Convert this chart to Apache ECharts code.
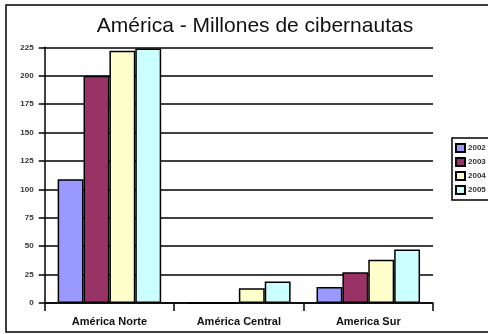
<!DOCTYPE html>
<html>
<head>
<meta charset="utf-8">
<script src="https://cdn.jsdelivr.net/npm/echarts@6/dist/echarts.min.js"></script>
<style>html,body{margin:0;padding:0;background:#fff;}#c{width:488px;height:334px;}</style>
</head>
<body>
<div id="c"></div>
<script>
const categories = ['América Norte', 'América Central', 'America Sur'];
const years = ['2002', '2003', '2004', '2005'];
const v2002 = [109, 0, 14];
const v2003 = [200, 0, 27];
const v2004 = [222, 13, 38];
const v2005 = [224, 19, 47];
const yTicks = [0, 25, 50, 75, 100, 125, 150, 175, 200, 225];
const colors = ['#9999FF', '#993366', '#FFFFCC', '#CCFFFF'];
const values = [v2002, v2003, v2004, v2005];

const chart = echarts.init(document.getElementById('c'), null, {renderer: 'canvas'});
chart.setOption({
  animation: false,
  textStyle: {fontFamily: 'Liberation Sans, Arial, sans-serif'},
  title: {
    text: 'América - Millones de cibernautas',
    left: 250, top: 11, textAlign: 'center',
    textStyle: {fontSize: 21, fontWeight: 'normal', color: '#111', fontFamily: 'Liberation Sans, Arial, sans-serif'}
  },
  graphic: [
    {type: 'rect', shape: {x: 6, y: 5, width: 500, height: 327}, style: {fill: 'none', stroke: '#000', lineWidth: 1.5}, z: 100},
    {type: 'rect', shape: {x: 452, y: 138, width: 60, height: 62}, style: {fill: 'none', stroke: '#000', lineWidth: 1.5}, z: 100}
  ],
  legend: {
    orient: 'vertical', left: 455, top: 143, padding: 0,
    itemWidth: 9, itemHeight: 8, itemGap: 4,
    icon: 'rect',
    textStyle: {fontSize: 8, lineHeight: 8, fontWeight: 'bold', color: '#333', padding: [0, 0, 0, -2]},
    data: years
  },
  grid: {left: 44.7, right: 55, top: 47.3, bottom: 31, containLabel: false},
  xAxis: {
    type: 'category', data: categories,
    axisLine: {lineStyle: {color: '#000', width: 1.5}},
    axisTick: {show: true, length: 8, lineStyle: {color: '#000', width: 1.5}},
    axisLabel: {fontSize: 11, fontWeight: 'bold', color: '#111', margin: 13},
    splitLine: {show: false}
  },
  yAxis: {
    type: 'value', min: 0, max: 225, interval: 25,
    axisLine: {show: true, lineStyle: {color: '#000', width: 1.5}},
    axisTick: {show: true, length: 6, lineStyle: {color: '#000', width: 1.5}},
    axisLabel: {fontSize: 8, fontWeight: 'bold', color: '#333', margin: 11,
      formatter: function (v) { return yTicks.indexOf(v) >= 0 ? String(v) : ''; }},
    splitLine: {show: true, lineStyle: {color: '#000', width: 1.5}}
  },
  series: years.map(function (y, i) {
    return {
      name: y, type: 'bar', data: values[i],
      barGap: '0%', barCategoryGap: '20%',
      itemStyle: {color: colors[i], borderColor: '#000', borderWidth: 1.5}
    };
  })
});
</script>
</body>
</html>
